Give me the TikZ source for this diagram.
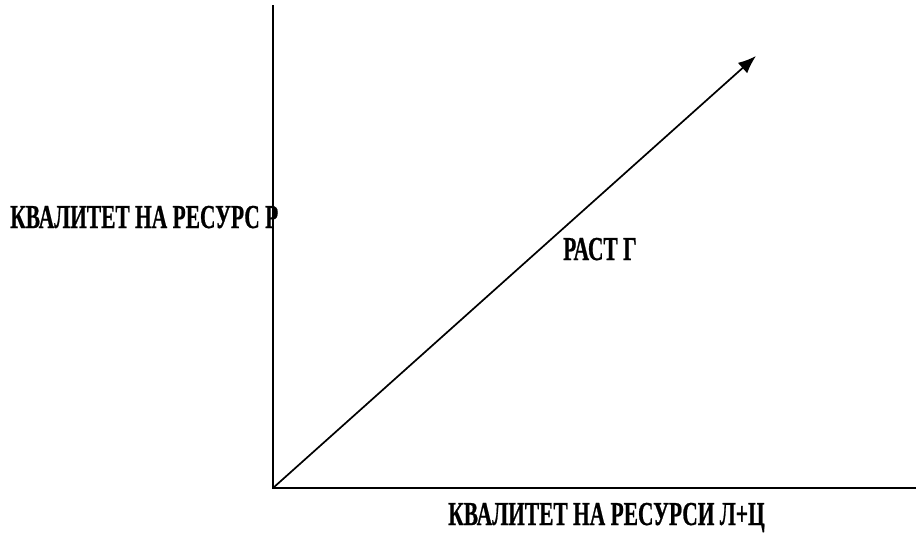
\documentclass[tikz,border=0pt]{standalone}
\usepackage{fontspec}
\setmainfont{Liberation Serif}
\usetikzlibrary{arrows.meta, positioning}
\newfontfamily\axisfont[FakeStretch=0.64, FakeBold=0.6]{Liberation Serif}
\tikzset{
  axis/.style={draw=black, line width=1.9pt},
  growth/.style={-{Latex[length=18pt, width=14pt]}, draw=black, line width=1.7pt},
  lbl/.style={font=\axisfont\fontsize{33.5}{34}\selectfont\bfseries, text=black, inner sep=0pt, anchor=base west},
}
\begin{document}
\begin{tikzpicture}[x=1pt, y=-1pt]
    \useasboundingbox (0,0) rectangle (917,533);
    \coordinate (origin) at (273,488);
    \coordinate (ytop) at (273,5);
    \coordinate (xend) at (916,488);
    \coordinate (tip) at (756,56);
    \draw[axis] (ytop) -- (origin) -- (xend);
    \draw[growth] (origin) -- (tip);
    \node[lbl] (ylabel) at (10,228) {КВАЛИТЕТ НА РЕСУРС Р};
    \node[lbl] (growlbl) at (563,260) {РАСТ Г};
    \node[lbl] (xlabel) at (448,525) {КВАЛИТЕТ НА РЕСУРСИ Л+Ц};
  \end{tikzpicture}
\end{document}
